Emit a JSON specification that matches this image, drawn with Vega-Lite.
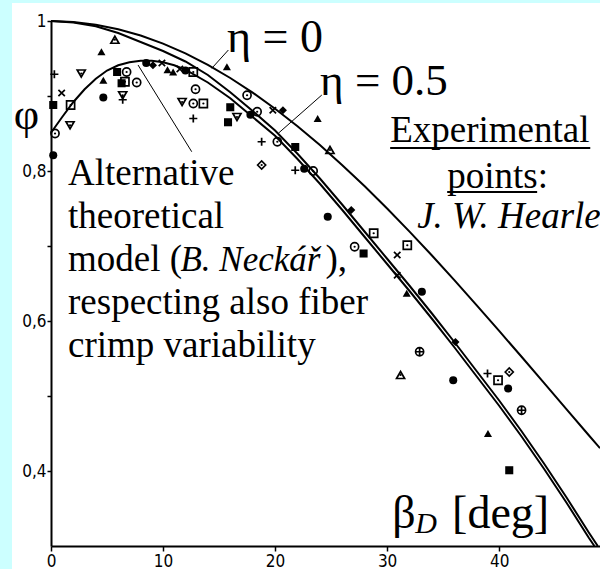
{
  "$schema": "https://vega.github.io/schema/vega-lite/v6.json",
  "width": 549,
  "height": 525,
  "autosize": {"type": "none"},
  "padding": {"left": 51, "top": 21, "right": 0, "bottom": 23},
  "background": "#ccffff",
  "config": {"view": {"stroke": null}},
  "datasets": {
    "curves": [
      {"curve":"eta0","beta":0,"phi":1},{"curve":"eta0","beta":2,"phi":0.9988},{"curve":"eta0","beta":4,"phi":0.9951},{"curve":"eta0","beta":6,"phi":0.9891},{"curve":"eta0","beta":8,"phi":0.9806},{"curve":"eta0","beta":10,"phi":0.9698},{"curve":"eta0","beta":12,"phi":0.9568},{"curve":"eta0","beta":14,"phi":0.9415},{"curve":"eta0","beta":16,"phi":0.924},{"curve":"eta0","beta":18,"phi":0.9045},{"curve":"eta0","beta":20,"phi":0.883},{"curve":"eta0","beta":22,"phi":0.8597},{"curve":"eta0","beta":24,"phi":0.8346},{"curve":"eta0","beta":26,"phi":0.8078},{"curve":"eta0","beta":28,"phi":0.7796},{"curve":"eta0","beta":30,"phi":0.75},{"curve":"eta0","beta":32,"phi":0.7192},{"curve":"eta0","beta":34,"phi":0.6873},{"curve":"eta0","beta":36,"phi":0.6545},{"curve":"eta0","beta":38,"phi":0.6209},{"curve":"eta0","beta":40,"phi":0.5868},{"curve":"eta0","beta":42,"phi":0.5523},{"curve":"eta0","beta":44,"phi":0.5174},{"curve":"eta0","beta":46,"phi":0.4826},{"curve":"eta0","beta":48,"phi":0.4477},{"curve":"eta0","beta":49,"phi":0.4304},
      {"curve":"eta05","beta":0,"phi":1},{"curve":"eta05","beta":2,"phi":0.998},{"curve":"eta05","beta":4,"phi":0.993},{"curve":"eta05","beta":6,"phi":0.984},{"curve":"eta05","beta":8,"phi":0.972},{"curve":"eta05","beta":10,"phi":0.96},{"curve":"eta05","beta":12,"phi":0.946},{"curve":"eta05","beta":14,"phi":0.928},{"curve":"eta05","beta":16,"phi":0.905},{"curve":"eta05","beta":18,"phi":0.88},{"curve":"eta05","beta":20,"phi":0.854},{"curve":"eta05","beta":22,"phi":0.823},{"curve":"eta05","beta":24,"phi":0.79},{"curve":"eta05","beta":26,"phi":0.755},{"curve":"eta05","beta":28,"phi":0.719},{"curve":"eta05","beta":30,"phi":0.683},{"curve":"eta05","beta":32,"phi":0.647},{"curve":"eta05","beta":34,"phi":0.61},{"curve":"eta05","beta":36,"phi":0.572},{"curve":"eta05","beta":38,"phi":0.533},{"curve":"eta05","beta":40,"phi":0.494},{"curve":"eta05","beta":42,"phi":0.453},{"curve":"eta05","beta":44,"phi":0.41},{"curve":"eta05","beta":46,"phi":0.365},{"curve":"eta05","beta":48,"phi":0.318},{"curve":"eta05","beta":48.8,"phi":0.3},
      {"curve":"alt","beta":0,"phi":0.851},{"curve":"alt","beta":1,"phi":0.872},{"curve":"alt","beta":2,"phi":0.892},{"curve":"alt","beta":3,"phi":0.909},{"curve":"alt","beta":4,"phi":0.923},{"curve":"alt","beta":5,"phi":0.934},{"curve":"alt","beta":6,"phi":0.941},{"curve":"alt","beta":7,"phi":0.945},{"curve":"alt","beta":8,"phi":0.947},{"curve":"alt","beta":9,"phi":0.947},{"curve":"alt","beta":10,"phi":0.945},{"curve":"alt","beta":11,"phi":0.941},{"curve":"alt","beta":12,"phi":0.935},{"curve":"alt","beta":14,"phi":0.918},{"curve":"alt","beta":16,"phi":0.897},{"curve":"alt","beta":18,"phi":0.872},{"curve":"alt","beta":20,"phi":0.847},{"curve":"alt","beta":22,"phi":0.816},{"curve":"alt","beta":24,"phi":0.783},{"curve":"alt","beta":26,"phi":0.748},{"curve":"alt","beta":28,"phi":0.712},{"curve":"alt","beta":30,"phi":0.676},{"curve":"alt","beta":32,"phi":0.64},{"curve":"alt","beta":34,"phi":0.603},{"curve":"alt","beta":36,"phi":0.565},{"curve":"alt","beta":38,"phi":0.526},{"curve":"alt","beta":40,"phi":0.487},{"curve":"alt","beta":42,"phi":0.446},{"curve":"alt","beta":44,"phi":0.403},{"curve":"alt","beta":46,"phi":0.358},{"curve":"alt","beta":48,"phi":0.311},{"curve":"alt","beta":48.5,"phi":0.3}
    ],
    "pts": [
      {"beta":5.7,"phi":0.975,"sym":"otri"},{"beta":4.5,"phi":0.959,"sym":"ftri"},{"beta":0.3,"phi":0.929,"sym":"plus"},{"beta":2.7,"phi":0.93,"sym":"itri"},{"beta":0.95,"phi":0.904,"sym":"x"},{"beta":0.2,"phi":0.888,"sym":"fsq"},{"beta":1.75,"phi":0.888,"sym":"osq"},{"beta":1.7,"phi":0.861,"sym":"itri"},{"beta":0.36,"phi":0.85,"sym":"ocirc"},{"beta":0.2,"phi":0.821,"sym":"fcirc"},
      {"beta":4.67,"phi":0.921,"sym":"ftri"},{"beta":4.67,"phi":0.898,"sym":"fcirc"},{"beta":5.9,"phi":0.932,"sym":"fsq"},{"beta":6.75,"phi":0.932,"sym":"ocirc"},{"beta":6.6,"phi":0.919,"sym":"osq"},{"beta":6.3,"phi":0.917,"sym":"fsq"},{"beta":6.4,"phi":0.901,"sym":"itri"},{"beta":6.4,"phi":0.895,"sym":"plus"},{"beta":7.65,"phi":0.918,"sym":"ocirc"},{"beta":8.5,"phi":0.944,"sym":"fcirc"},
      {"beta":9.1,"phi":0.941,"sym":"fdia"},{"beta":9.9,"phi":0.944,"sym":"x"},{"beta":10.4,"phi":0.935,"sym":"ftri"},{"beta":10.9,"phi":0.932,"sym":"ftri"},{"beta":15.7,"phi":0.939,"sym":"ftri"},{"beta":11.5,"phi":0.936,"sym":"x"},{"beta":12.7,"phi":0.932,"sym":"osq"},{"beta":12.0,"phi":0.934,"sym":"fcirc"},{"beta":12.9,"phi":0.909,"sym":"ocirc"},{"beta":11.7,"phi":0.892,"sym":"itri"},
      {"beta":12.7,"phi":0.89,"sym":"ocirc"},{"beta":13.6,"phi":0.89,"sym":"osq"},{"beta":12.7,"phi":0.87,"sym":"plus"},{"beta":16.0,"phi":0.885,"sym":"fsq"},{"beta":15.8,"phi":0.865,"sym":"fsq"},{"beta":16.6,"phi":0.872,"sym":"itri"},{"beta":17.5,"phi":0.901,"sym":"ocirc"},{"beta":17.8,"phi":0.875,"sym":"fcirc"},{"beta":18.4,"phi":0.879,"sym":"ocirc"},{"beta":19.8,"phi":0.881,"sym":"x"},
      {"beta":20.7,"phi":0.881,"sym":"fdia"},{"beta":23.8,"phi":0.87,"sym":"ftri"},{"beta":18.8,"phi":0.839,"sym":"plus"},{"beta":20.2,"phi":0.839,"sym":"ocirc"},{"beta":18.8,"phi":0.808,"sym":"odia"},{"beta":24.9,"phi":0.828,"sym":"otri"},{"beta":21.8,"phi":0.832,"sym":"fsq"},{"beta":21.8,"phi":0.801,"sym":"plus"},{"beta":22.6,"phi":0.803,"sym":"fcirc"},{"beta":23.4,"phi":0.8,"sym":"ocirc"},
      {"beta":24.7,"phi":0.739,"sym":"fcirc"},{"beta":26.8,"phi":0.748,"sym":"fdia"},{"beta":27.1,"phi":0.699,"sym":"ocirc"},{"beta":27.9,"phi":0.69,"sym":"fsq"},{"beta":28.8,"phi":0.717,"sym":"osq"},{"beta":31.8,"phi":0.701,"sym":"osq"},{"beta":30.9,"phi":0.688,"sym":"x"},{"beta":30.9,"phi":0.661,"sym":"x"},{"beta":31.75,"phi":0.637,"sym":"ftri"},{"beta":33.1,"phi":0.639,"sym":"fcirc"},
      {"beta":36.1,"phi":0.572,"sym":"fdia"},{"beta":32.9,"phi":0.559,"sym":"ccross"},{"beta":31.2,"phi":0.528,"sym":"otri"},{"beta":35.9,"phi":0.521,"sym":"fcirc"},{"beta":38.96,"phi":0.53,"sym":"plus"},{"beta":39.9,"phi":0.521,"sym":"osq"},{"beta":40.9,"phi":0.532,"sym":"odia"},{"beta":40.8,"phi":0.51,"sym":"fcirc"},{"beta":42.0,"phi":0.481,"sym":"ccross"},{"beta":39.0,"phi":0.45,"sym":"ftri"},
      {"beta":40.9,"phi":0.401,"sym":"fsq"}
    ]
  },
  "layer": [
    {
      "data": {"values": [{}]},
      "mark": {"type": "rect", "color": "white", "clip": false},
      "encoding": {
        "x": {"datum": -3.48, "type": "quantitative", "scale": {"domain": [0, 49], "nice": false, "zero": false},
          "axis": {"values": [0, 10, 20, 30, 40], "title": null, "grid": false, "zindex": 1, "domainColor": "black", "domainWidth": 2, "tickColor": "black", "tickWidth": 1.5, "tickSize": 5, "labelPadding": 2, "labelFlush": false, "labelFont": "DejaVu Sans Condensed, DejaVu Sans", "labelFontSize": 17, "labelColor": "black"}},
        "x2": {"datum": 49.2},
        "y": {"datum": 1.024, "type": "quantitative", "scale": {"domain": [0.3, 1], "nice": false, "zero": false},
          "axis": {"values": [0.4, 0.5, 0.6, 0.7, 0.8, 0.9, 1], "labelExpr": "datum.value == 1 ? '1' : (datum.value == 0.4 ? '0,4' : (datum.value == 0.6 ? '0,6' : (datum.value == 0.8 ? '0,8' : '')))", "title": null, "grid": false, "zindex": 1, "domainColor": "black", "domainWidth": 2, "tickColor": "black", "tickWidth": 1.5, "tickSize": 4, "labelPadding": 1, "labelOverlap": false, "labelFont": "DejaVu Sans Condensed, DejaVu Sans", "labelFontSize": 17, "labelColor": "black"}},
        "y2": {"datum": 0.269}
      }
    },
    {
      "data": {"name": "curves"},
      "mark": {"type": "line", "color": "black", "strokeWidth": 2, "clip": false},
      "encoding": {
        "x": {"field": "beta", "type": "quantitative"},
        "y": {"field": "phi", "type": "quantitative"},
        "detail": {"field": "curve"}
      }
    },
    {
      "data": {"values": [{}]},
      "mark": {"type": "rule", "color": "black", "strokeWidth": 1},
      "encoding": {"x": {"datum": 15.83}, "y": {"datum": 0.9613}, "x2": {"datum": 14.35}, "y2": {"datum": 0.9369}}
    },
    {
      "data": {"values": [{}]},
      "mark": {"type": "rule", "color": "black", "strokeWidth": 1},
      "encoding": {"x": {"datum": 24.17}, "y": {"datum": 0.9013}, "x2": {"datum": 20.29}, "y2": {"datum": 0.8503}}
    },
    {
      "data": {"values": [{}]},
      "mark": {"type": "rule", "color": "black", "strokeWidth": 1},
      "encoding": {"x": {"datum": 7.77}, "y": {"datum": 0.9413}, "x2": {"datum": 12.56}, "y2": {"datum": 0.8257}}
    },
    {
      "data": {"name": "pts"},
      "transform": [{"filter": "indexof(['ftri','fcirc','fsq','fdia'], datum.sym) >= 0"}],
      "mark": {"type": "point", "filled": true, "color": "black", "opacity": 1, "size": 65},
      "encoding": {
        "x": {"field": "beta", "type": "quantitative"},
        "y": {"field": "phi", "type": "quantitative"},
        "shape": {"field": "sym", "type": "nominal", "legend": null,
          "scale": {"domain": ["ftri","fcirc","fsq","fdia","otri","ocirc","osq","odia","itri","plus","x","ccross"],
                    "range": ["triangle-up","circle","square","diamond","triangle-up","circle","square","diamond","triangle-down","M-1,0L1,0M0,-1L0,1","M-0.8,-0.8L0.8,0.8M-0.8,0.8L0.8,-0.8","M-1,0A1,1,0,1,1,1,0A1,1,0,1,1,-1,0ZM-1,0L1,0M0,-1L0,1"]}}
      }
    },
    {
      "data": {"name": "pts"},
      "transform": [{"filter": "indexof(['ftri','fcirc','fsq','fdia'], datum.sym) < 0"}],
      "mark": {"type": "point", "filled": false, "color": "black", "opacity": 1, "strokeWidth": 1.7, "size": 65},
      "encoding": {
        "x": {"field": "beta", "type": "quantitative"},
        "y": {"field": "phi", "type": "quantitative"},
        "shape": {"field": "sym", "type": "nominal", "legend": null}
      }
    },
    {
      "data": {"name": "pts"},
      "transform": [{"filter": "indexof(['otri','ocirc','osq','odia','itri'], datum.sym) >= 0"}],
      "mark": {"type": "point", "filled": true, "color": "black", "opacity": 1, "shape": "circle", "size": 5},
      "encoding": {
        "x": {"field": "beta", "type": "quantitative"},
        "y": {"field": "phi", "type": "quantitative"}
      }
    },
    {
      "data": {"values": [{}]},
      "mark": {"type": "text", "text": "φ", "font": "Liberation Serif", "fontSize": 44, "align": "center", "baseline": "middle", "color": "black"},
      "encoding": {"x": {"datum": -2.2}, "y": {"datum": 0.874}}
    },
    {
      "data": {"values": [{}]},
      "mark": {"type": "text", "text": "η = 0", "font": "Liberation Serif", "fontSize": 46, "align": "left", "baseline": "alphabetic", "color": "black"},
      "encoding": {"x": {"datum": 15.71}, "y": {"datum": 0.9587}}
    },
    {
      "data": {"values": [{}]},
      "mark": {"type": "text", "text": "η = 0.5", "font": "Liberation Serif", "fontSize": 45, "align": "left", "baseline": "alphabetic", "color": "black"},
      "encoding": {"x": {"datum": 24.02}, "y": {"datum": 0.9013}}
    },
    {
      "data": {"values": [{}]},
      "mark": {"type": "text", "text": ["Alternative", "theoretical", "model (", "respecting also fiber", "crimp variability"], "lineHeight": 43, "font": "Liberation Serif", "fontSize": 37, "align": "left", "baseline": "alphabetic", "color": "black"},
      "encoding": {"x": {"datum": 1.518}, "y": {"datum": 0.7813}}
    },
    {
      "data": {"values": [{}]},
      "mark": {"type": "text", "text": "B. Neckář", "font": "Liberation Serif", "fontStyle": "italic", "fontSize": 35, "align": "left", "baseline": "alphabetic", "color": "black"},
      "encoding": {"x": {"datum": 11.55}, "y": {"datum": 0.6667}}
    },
    {
      "data": {"values": [{}]},
      "mark": {"type": "text", "text": "),", "font": "Liberation Serif", "fontSize": 37, "align": "left", "baseline": "alphabetic", "color": "black"},
      "encoding": {"x": {"datum": 24.5}, "y": {"datum": 0.6667}}
    },
    {
      "data": {"values": [{}]},
      "mark": {"type": "text", "text": "Experimental", "font": "Liberation Serif", "fontSize": 37, "align": "left", "baseline": "alphabetic", "color": "black"},
      "encoding": {"x": {"datum": 30.27}, "y": {"datum": 0.8387}}
    },
    {
      "data": {"values": [{}]},
      "mark": {"type": "rule", "color": "black", "strokeWidth": 2},
      "encoding": {"x": {"datum": 30.27}, "x2": {"datum": 48.13}, "y": {"datum": 0.8307}}
    },
    {
      "data": {"values": [{}]},
      "mark": {"type": "text", "text": "points:", "font": "Liberation Serif", "fontSize": 37, "align": "left", "baseline": "alphabetic", "color": "black"},
      "encoding": {"x": {"datum": 35.36}, "y": {"datum": 0.7773}}
    },
    {
      "data": {"values": [{}]},
      "mark": {"type": "rule", "color": "black", "strokeWidth": 2},
      "encoding": {"x": {"datum": 35.36}, "x2": {"datum": 43.39}, "y": {"datum": 0.772}}
    },
    {
      "data": {"values": [{}]},
      "mark": {"type": "text", "text": "J. W. Hearle", "font": "Liberation Serif", "fontStyle": "italic", "fontSize": 37, "align": "left", "baseline": "alphabetic", "color": "black"},
      "encoding": {"x": {"datum": 32.68}, "y": {"datum": 0.724}}
    },
    {
      "data": {"values": [{}]},
      "mark": {"type": "text", "text": "β", "font": "Liberation Serif", "fontSize": 46, "align": "left", "baseline": "alphabetic", "color": "black"},
      "encoding": {"x": {"datum": 30.45}, "y": {"datum": 0.324}}
    },
    {
      "data": {"values": [{}]},
      "mark": {"type": "text", "text": "D", "font": "Liberation Serif", "fontStyle": "italic", "fontSize": 30, "align": "left", "baseline": "alphabetic", "color": "black"},
      "encoding": {"x": {"datum": 32.5}, "y": {"datum": 0.3173}}
    },
    {
      "data": {"values": [{}]},
      "mark": {"type": "text", "text": "[deg]", "font": "Liberation Serif", "fontSize": 46, "align": "left", "baseline": "alphabetic", "color": "black"},
      "encoding": {"x": {"datum": 35.8}, "y": {"datum": 0.324}}
    }
  ]
}
